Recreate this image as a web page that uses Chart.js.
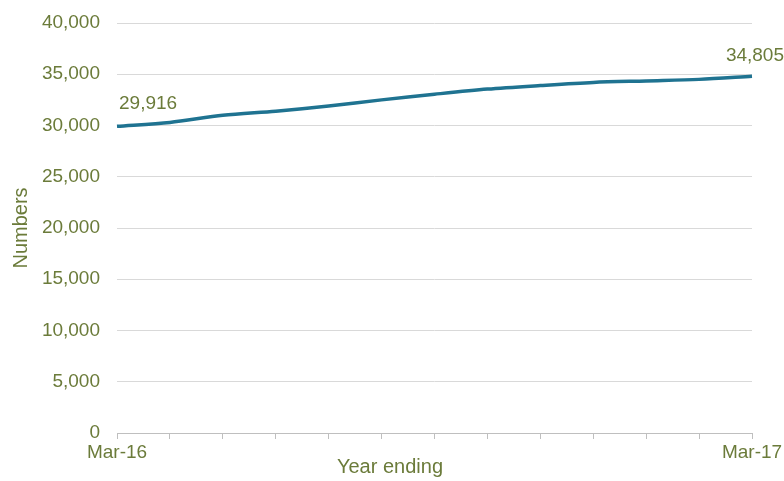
<!DOCTYPE html>
<html>
<head>
<meta charset="utf-8">
<script src="https://cdn.jsdelivr.net/npm/chart.js@4"></script>
<style>
  html, body { margin: 0; padding: 0; background: #fff; }
  #wrap { width: 784px; height: 481px; }
</style>
</head>
<body>
<div id="wrap"><canvas id="c" width="784" height="481"></canvas></div>
<script>
const categories = ['Mar-16','Apr-16','May-16','Jun-16','Jul-16','Aug-16','Sep-16','Oct-16','Nov-16','Dec-16','Jan-17','Feb-17','Mar-17'];
const numbers = [29916, 30300, 31000, 31400, 31900, 32500, 33050, 33550, 33900, 34200, 34350, 34500, 34805];
const labelledIdx = [0, 12];
const yTicks = [0, 5000, 10000, 15000, 20000, 25000, 30000, 35000, 40000];

const TEXT = '#6b7b3a';
const FONT = '"Liberation Sans", Arial, sans-serif';

const extras = {
  id: 'extras',
  afterDatasetsDraw(chart) {
    const ctx = chart.ctx;
    const meta = chart.getDatasetMeta(0);
    ctx.save();
    ctx.fillStyle = TEXT;
    ctx.font = '19px ' + FONT;
    ctx.textBaseline = 'bottom';
    labelledIdx.forEach(i => {
      const p = meta.data[i];
      const txt = numbers[i].toLocaleString('en-US');
      if (i === 0) { ctx.textAlign = 'left'; ctx.fillText(txt, p.x + 2, p.y - 13); }
      else { ctx.textAlign = 'right'; ctx.fillText(txt, 784, p.y - 11); }
    });
    ctx.font = '20px ' + FONT;
    ctx.textAlign = 'center';
    ctx.textBaseline = 'middle';
    ctx.fillText('Year ending', 390, 467);
    ctx.restore();
  }
};

new Chart(document.getElementById('c'), {
  type: 'line',
  data: {
    labels: categories,
    datasets: [{
      data: numbers,
      borderColor: '#1f7391',
      borderWidth: 3.5,
      pointRadius: 0,
      tension: 0.3,
      fill: false
    }]
  },
  options: {
    responsive: false,
    animation: false,
    layout: { padding: { left: 0, right: 32, top: 23, bottom: 0 } },
    plugins: { legend: { display: false }, tooltip: { enabled: false } },
    scales: {
      x: {
        offset: false,
        grid: { display: true, drawOnChartArea: false, drawTicks: true, tickLength: 6, color: '#bfbfbf' },
        border: { display: true, color: '#bfbfbf', width: 1 },
        ticks: {
          autoSkip: false, maxRotation: 0, color: TEXT, font: { size: 19, family: FONT }, padding: 2,
          callback: (v, i) => labelledIdx.includes(i) ? categories[i] : ''
        },
        afterFit: s => { s.height = 48; s.paddingLeft = 0; s.paddingRight = 0; }
      },
      y: {
        min: 0, max: 40000,
        afterBuildTicks: s => { s.ticks = yTicks.map(v => ({ value: v })); },
        grid: { color: '#d9d9d9', drawTicks: false, lineWidth: 1 },
        border: { display: false },
        ticks: {
          color: TEXT, font: { size: 19, family: FONT }, padding: 17,
          callback: v => v.toLocaleString('en-US')
        },
        title: { display: true, text: 'Numbers', color: TEXT, font: { size: 20, family: FONT }, padding: { top: 9, bottom: 0 } },
        afterFit: s => { s.width = 117; s.paddingTop = 0; s.paddingBottom = 0; }
      }
    }
  },
  plugins: [extras]
});
</script>
</body>
</html>
